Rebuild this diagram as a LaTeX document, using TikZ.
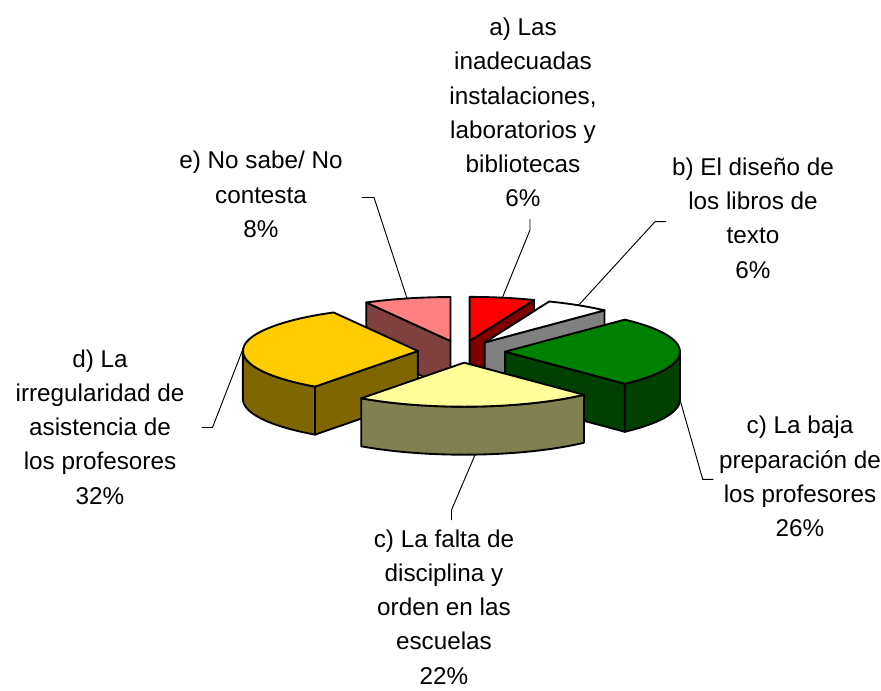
\documentclass[tikz,border=0pt]{standalone}
\usepackage{fontspec}
\setmainfont{Liberation Sans}
\usetikzlibrary{calc}
\definecolor{rojoT}{RGB}{255,0,0}
\definecolor{rojoS}{RGB}{128,0,0}
\definecolor{grisS}{RGB}{128,128,128}
\definecolor{verdeT}{RGB}{0,128,0}
\definecolor{verdeS}{RGB}{0,64,0}
\definecolor{amarT}{RGB}{255,255,153}
\definecolor{amarS}{RGB}{128,128,80}
\definecolor{oroT}{RGB}{255,204,0}
\definecolor{oroS}{RGB}{128,102,0}
\definecolor{rosaT}{RGB}{255,128,128}
\definecolor{rosaS}{RGB}{128,64,64}
% top face, cut face and outer wall of one exploded slice (angles clockwise from 12 o'clock)
\def\pietop[#1](#2)(#3:#4){\draw[#1] (#2) -- ++(#3-90:175 and 44) arc[start angle=#3-90, end angle=#4-90, x radius=175, y radius=44] -- cycle;}
\def\pieside[#1](#2)(#3){\draw[#1] (#2) -- ++(#3-90:175 and 44) -- ++(0,48) -- ++(#3+90:175 and 44) -- cycle;}
\def\piewall[#1](#2)(#3:#4){\draw[#1] (#2) ++(#3-90:175 and 44) arc[start angle=#3-90, end angle=#4-90, x radius=175, y radius=44] -- ++(0,48) arc[start angle=#4-90, end angle=#3-90, x radius=175, y radius=44] -- cycle;}

\begin{document}
\begin{tikzpicture}[x=0.75pt, y=-0.75pt,
		borde/.style={draw=black, line width=1.4pt, line join=round},
		guia/.style={draw=black, line width=0.7pt},
		etiqueta/.style={align=center, inner sep=0pt, font=\fontsize{18.2}{25.65}\selectfont}]
	\useasboundingbox (0,0) rectangle (881,690);
	
	% slice centres, pushed out along the bisector
	\coordinate (ca) at ({461.4+43.6*sin(10.8)},{351.7-11*cos(10.8)});
	\coordinate (cb) at ({461.4+43.6*sin(32.4)},{351.7-11*cos(32.4)});
	\coordinate (cv) at ({461.4+43.6*sin(90)},{351.7-11*cos(90)});
	\coordinate (cf) at ({461.4+43.6*sin(176.4)},{351.7-11*cos(176.4)});
	\coordinate (cd) at ({461.4+43.6*sin(273.6)},{351.7-11*cos(273.6)});
	\coordinate (ce) at ({461.4+43.6*sin(345.6)},{351.7-11*cos(345.6)});
	
	% e) No sabe
	\pieside[borde, fill=rosaS](ce)(331.2)
	\pietop[borde, fill=rosaT](ce)(331.2:360)
	
	% a) instalaciones
	\pieside[borde, fill=rojoS](ca)(21.6)
	\pietop[borde, fill=rojoT](ca)(0:21.6)
	
	% b) libros de texto
	\pieside[borde, fill=grisS](cb)(43.2)
	\pietop[borde, fill=white](cb)(21.6:43.2)
	
	% d) irregularidad
	\piewall[borde, fill=oroS](cd)(216:270)
	\pieside[borde, fill=oroS](cd)(216)
	\pietop[borde, fill=oroT](cd)(216:331.2)
	
	% c) baja preparacion
	\piewall[borde, fill=verdeS](cv)(90:136.8)
	\pieside[borde, fill=verdeS](cv)(136.8)
	\pietop[borde, fill=verdeT](cv)(43.2:136.8)
	
	% c) falta de disciplina
	\piewall[borde, fill=amarS](cf)(136.8:216)
	\pietop[borde, fill=amarT](cf)(136.8:216)
	
	% labels
	\node[etiqueta] (la) at (523,112.6) {a) Las\\inadecuadas\\instalaciones,\\laboratorios y\\bibliotecas\\6\%};
	\node[etiqueta] (lb) at (753,218.2) {b) El diseño de\\los libros de\\texto\\6\%};
	\node[etiqueta] (le) at (261,194.4) {e) No sabe/ No\\contesta\\8\%};
	\node[etiqueta] (ld) at (100,427) {d) La\\irregularidad de\\asistencia de\\los profesores\\32\%};
	\node[etiqueta] (lcb) at (800,476.5) {c) La baja\\preparación de\\los profesores\\26\%};
	\node[etiqueta] (lcf) at (444,607) {c) La falta de\\disciplina y\\orden en las\\escuelas\\22\%};
	
	% leader lines
	\coordinate (pa) at ($(ca)+(-79.2:175 and 44)$);
	\coordinate (pb) at ($(cb)+(-57.6:175 and 44)$);
	\coordinate (pe) at ($(ce)+(255.6:175 and 44)$);
	\coordinate (pd) at ($(cd)+(183.6:175 and 44)$);
	\coordinate (pv) at ($(cv)+(0:175 and 44)+(0,48)$);
	\coordinate (pf) at ($(cf)+(86.4:175 and 44)+(0,48)$);
	\coordinate (ga1) at (530,219);   \coordinate (ga2) at (530,230);
	\coordinate (gb1) at (666,221.7); \coordinate (gb2) at (655,221.7);
	\coordinate (ge1) at (361.5,197.5); \coordinate (ge2) at (374,197.5);
	\coordinate (gd1) at (201.5,427.5); \coordinate (gd2) at (212.5,427.5);
	\coordinate (gv1) at (713.3,479.3); \coordinate (gv2) at (702.7,479.3);
	\coordinate (gf1) at (451.5,520); \coordinate (gf2) at (451.5,510);
	\draw[guia] (ga1) -- (ga2) -- (pa);
	\draw[guia] (gb1) -- (gb2) -- (pb);
	\draw[guia] (ge1) -- (ge2) -- (pe);
	\draw[guia] (gd1) -- (gd2) -- (pd);
	\draw[guia] (gv1) -- (gv2) -- (pv);
	\draw[guia] (gf1) -- (gf2) -- (pf);
\end{tikzpicture}
\end{document}
